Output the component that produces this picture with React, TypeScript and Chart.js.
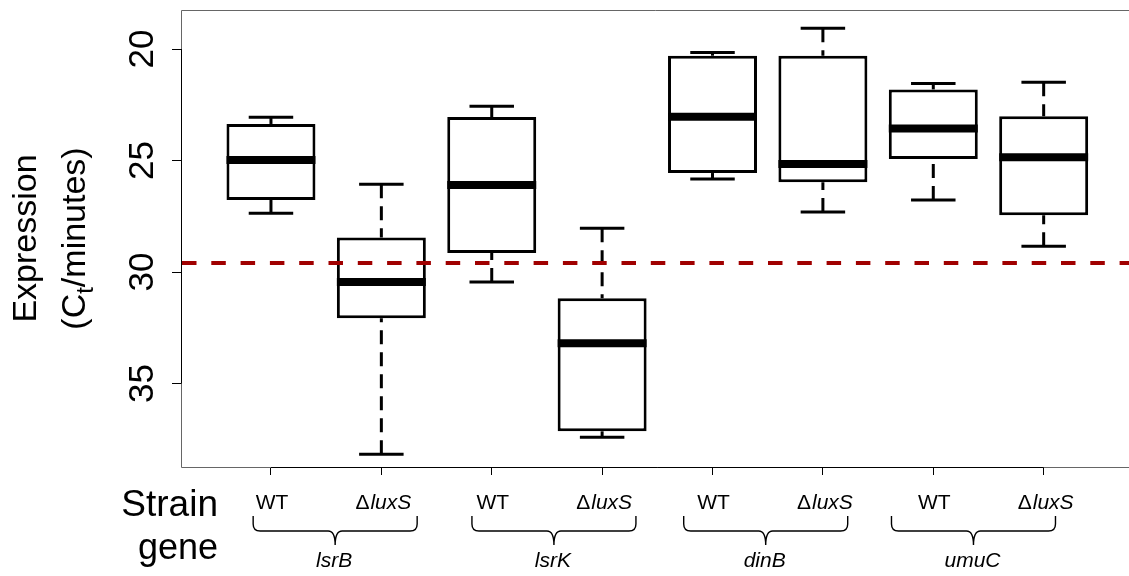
import React, { useEffect, useRef } from "react";
import { Chart, registerables } from "chart.js";

Chart.register(...registerables);

// ---- data ----
const strainLabels = ["WT", "ΔluxS", "WT", "ΔluxS", "WT", "ΔluxS", "WT", "ΔluxS"];
const geneLabels = ["lsrB", "lsrK", "dinB", "umuC"];
const whiskerTop = [23.06, 26.06, 22.56, 28.03, 20.15, 19.07, 21.54, 21.49];
const boxTop = [23.36, 28.45, 23.05, 31.17, 20.3, 20.3, 21.81, 23.01];
const medians = [24.98, 30.45, 26.1, 33.19, 23.04, 25.16, 23.56, 24.85];
const boxBottom = [26.77, 32.07, 29.14, 37.14, 25.56, 25.97, 24.93, 27.45];
const whiskerBottom = [27.36, 38.17, 30.44, 37.41, 25.83, 27.31, 26.77, 28.84];
const yTicks = [20, 25, 30, 35];
const thresholdCt = 29.59;

// ---- layout / style constants ----
const W = 1129;
const H = 576;
const FONT = '"Liberation Sans", Arial, Helvetica, sans-serif';
const braceShiftPx = [9, 7, -2, -15];
const braceHalfPx = 82;

const extrasPlugin = {
  id: "boxExtras",
  afterDatasetsDraw(chart: any) {
    const { ctx, chartArea: ca } = chart;
    const x = chart.scales.x;
    const y = chart.scales.y;
    const meta = chart.getDatasetMeta(0);
    ctx.save();
    ctx.strokeStyle = "#000";
    ctx.lineCap = "butt";
    strainLabels.forEach((_, i) => {
      const cx = x.getPixelForValue(i + 1);
      const w = meta.data[i].width;
      const capHalf = w / 4;
      // dashed whiskers (drawn from cap toward box)
      ctx.lineWidth = 3;
      ctx.setLineDash([14, 8]);
      ctx.beginPath();
      ctx.moveTo(cx, y.getPixelForValue(whiskerTop[i]));
      ctx.lineTo(cx, y.getPixelForValue(boxTop[i]));
      ctx.stroke();
      ctx.beginPath();
      ctx.moveTo(cx, y.getPixelForValue(whiskerBottom[i]));
      ctx.lineTo(cx, y.getPixelForValue(boxBottom[i]));
      ctx.stroke();
      ctx.setLineDash([]);
      // caps
      ctx.beginPath();
      const yt = y.getPixelForValue(whiskerTop[i]);
      const yb = y.getPixelForValue(whiskerBottom[i]);
      ctx.moveTo(cx - capHalf, yt);
      ctx.lineTo(cx + capHalf, yt);
      ctx.moveTo(cx - capHalf, yb);
      ctx.lineTo(cx + capHalf, yb);
      ctx.stroke();
      // median
      ctx.lineWidth = 8;
      const ym = y.getPixelForValue(medians[i]);
      ctx.beginPath();
      ctx.moveTo(cx - w / 2, ym);
      ctx.lineTo(cx + w / 2, ym);
      ctx.stroke();
    });
    // threshold line
    const yr = y.getPixelForValue(thresholdCt);
    ctx.strokeStyle = "#A00000";
    ctx.lineWidth = 4;
    ctx.setLineDash([14.5, 14.8]);
    ctx.beginPath();
    ctx.moveTo(ca.left + 1, yr);
    ctx.lineTo(ca.right, yr);
    ctx.stroke();
    ctx.setLineDash([]);
    ctx.restore();
  },
  afterDraw(chart: any) {
    const { ctx, chartArea: ca } = chart;
    const x = chart.scales.x;
    const y = chart.scales.y;
    ctx.save();
    // frame (grey)
    ctx.strokeStyle = "#666";
    ctx.lineWidth = 1;
    ctx.beginPath();
    ctx.moveTo(ca.right, ca.top + 0.5);
    ctx.lineTo(ca.left + 0.5, ca.top + 0.5);
    ctx.lineTo(ca.left + 0.5, ca.bottom + 0.5);
    ctx.lineTo(ca.right, ca.bottom + 0.5);
    ctx.stroke();
    // axis lines (black)
    ctx.strokeStyle = "#000";
    ctx.beginPath();
    ctx.moveTo(ca.left + 0.5, y.getPixelForValue(yTicks[0]));
    ctx.lineTo(ca.left + 0.5, y.getPixelForValue(yTicks[yTicks.length - 1]));
    ctx.moveTo(x.getPixelForValue(1), ca.bottom + 0.5);
    ctx.lineTo(x.getPixelForValue(strainLabels.length), ca.bottom + 0.5);
    ctx.stroke();

    ctx.fillStyle = "#000";
    // y tick labels (rotated)
    ctx.font = `35px ${FONT}`;
    ctx.textAlign = "center";
    ctx.textBaseline = "alphabetic";
    yTicks.forEach((v) => {
      ctx.save();
      ctx.translate(ca.left - 28, y.getPixelForValue(v));
      ctx.rotate(-Math.PI / 2);
      ctx.fillText(String(v), 0, 0);
      ctx.restore();
    });

    // y title
    const cy = (ca.top + ca.bottom) / 2;
    ctx.save();
    ctx.translate(36, cy);
    ctx.rotate(-Math.PI / 2);
    ctx.font = `34px ${FONT}`;
    ctx.textAlign = "center";
    ctx.fillText("Expression", 0, 0);
    ctx.restore();

    ctx.save();
    ctx.translate(85, cy);
    ctx.rotate(-Math.PI / 2);
    ctx.textAlign = "left";
    const big = `34px ${FONT}`;
    const small = `24px ${FONT}`;
    ctx.font = big;
    const w1 = ctx.measureText("(C").width;
    const w3 = ctx.measureText("/minutes)").width;
    ctx.font = small;
    const w2 = ctx.measureText("t").width;
    let sx = -(w1 + w2 + w3) / 2;
    ctx.font = big;
    ctx.fillText("(C", sx, 0);
    sx += w1;
    ctx.font = small;
    ctx.fillText("t", sx, 8);
    sx += w2;
    ctx.font = big;
    ctx.fillText("/minutes)", sx, 0);
    ctx.restore();

    // Strain / gene row titles
    ctx.font = `37px ${FONT}`;
    ctx.textAlign = "right";
    ctx.fillText("Strain", 218, 516);
    ctx.font = `36px ${FONT}`;
    ctx.fillText("gene", 218, 559);

    // strain labels
    ctx.textAlign = "left";
    const sf = 21;
    strainLabels.forEach((lab, i) => {
      const cx = x.getPixelForValue(i + 1);
      if (lab.startsWith("Δ")) {
        const rest = lab.slice(1);
        ctx.font = `${sf}px ${FONT}`;
        const wd = ctx.measureText("Δ").width + 1;
        ctx.font = `italic ${sf}px ${FONT}`;
        const wr = ctx.measureText(rest).width;
        let px = cx - (wd + wr) / 2 + 2;
        ctx.font = `${sf}px ${FONT}`;
        ctx.fillText("Δ", px, 509);
        px += wd;
        ctx.font = `italic ${sf}px ${FONT}`;
        ctx.fillText(rest, px, 509);
      } else {
        ctx.font = `${sf}px ${FONT}`;
        const wl = ctx.measureText(lab).width;
        ctx.fillText(lab, cx - wl / 2 + 1, 509);
      }
    });

    // braces + gene labels
    ctx.lineWidth = 1.4;
    ctx.strokeStyle = "#000";
    const top = 516;
    const mid = 531;
    const tip = 545;
    const r = 7;
    geneLabels.forEach((g, gi) => {
      const c =
        (x.getPixelForValue(gi * 2 + 1) + x.getPixelForValue(gi * 2 + 2)) / 2 +
        braceShiftPx[gi];
      const L = c - braceHalfPx;
      const R = c + braceHalfPx;
      ctx.beginPath();
      ctx.moveTo(L, top);
      ctx.lineTo(L, mid - r);
      ctx.quadraticCurveTo(L, mid, L + r, mid);
      ctx.lineTo(c - r, mid);
      ctx.quadraticCurveTo(c, mid, c, tip);
      ctx.quadraticCurveTo(c, mid, c + r, mid);
      ctx.lineTo(R - r, mid);
      ctx.quadraticCurveTo(R, mid, R, mid - r);
      ctx.lineTo(R, top);
      ctx.stroke();
      ctx.font = `italic 21px ${FONT}`;
      ctx.textAlign = "center";
      ctx.fillText(g, c - 1, 567);
      ctx.textAlign = "left";
    });
    ctx.restore();
  },
};

export default function App() {
  const ref = useRef<HTMLCanvasElement>(null);
  useEffect(() => {
    document.body.style.margin = "0";
    const chart = new Chart(ref.current as HTMLCanvasElement, {
      type: "bar",
      data: {
        datasets: [
          {
            data: strainLabels.map((_, i) => ({ x: i + 1, y: [boxTop[i], boxBottom[i]] })) as any,
            backgroundColor: "#ffffff",
            borderColor: "#000000",
            borderWidth: 3,
            borderSkipped: false,
            barPercentage: 0.806,
            categoryPercentage: 1,
          },
        ],
      },
      options: {
        responsive: false,
        animation: false,
        devicePixelRatio: 1,
        layout: { padding: { top: 10, left: 0, right: 0, bottom: 0 } },
        plugins: { legend: { display: false }, tooltip: { enabled: false } },
        scales: {
          x: {
            type: "linear",
            offset: false,
            min: 0.185,
            max: 8.773,
            afterBuildTicks: (s: any) => {
              s.ticks = strainLabels.map((_, i) => ({ value: i + 1 }));
            },
            afterFit: (s: any) => {
              s.height = H - 467;
            },
            grid: {
              offset: false,
              drawOnChartArea: false,
              drawTicks: true,
              tickLength: 8,
              color: "#000",
              lineWidth: 1,
            },
            border: { display: false },
            ticks: { display: false },
          },
          y: {
            type: "linear",
            reverse: true,
            min: 18.25,
            max: 38.74,
            afterBuildTicks: (s: any) => {
              s.ticks = yTicks.map((v) => ({ value: v }));
            },
            afterFit: (s: any) => {
              s.width = 181;
            },
            grid: { drawOnChartArea: false, drawTicks: true, tickLength: 9, color: "#000", lineWidth: 1 },
            border: { display: false },
            ticks: { display: false },
          },
        },
      },
      plugins: [extrasPlugin],
    } as any);
    return () => chart.destroy();
  }, []);
  return (
    <div style={{ position: "absolute", left: 0, top: 0, width: W, height: H, background: "#fff" }}>
      <canvas ref={ref} width={W} height={H} style={{ display: "block", width: W, height: H }} />
    </div>
  );
}
